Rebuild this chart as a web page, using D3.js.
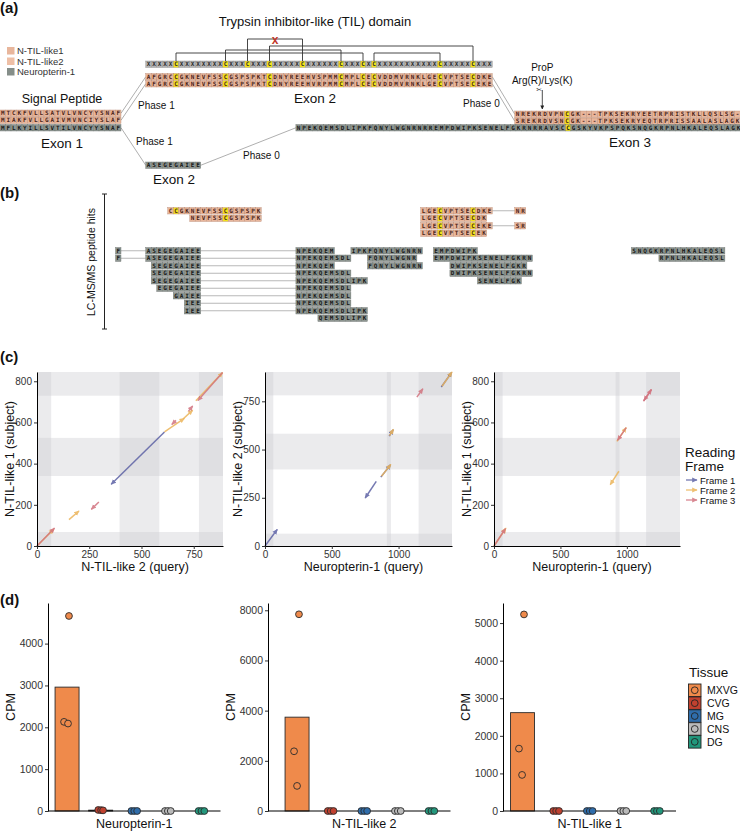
<!DOCTYPE html>
<html>
<head>
<meta charset="utf-8">
<script src="https://cdn.jsdelivr.net/npm/d3@7"></script>
<style>
body { margin: 0; background: #fff; }
svg text { font-family: "Liberation Sans", Arial, sans-serif; }
</style>
</head>
<body>
<svg id="fig" width="740" height="833"></svg>
<script>
// ---------- (a) sequences ----------
const exon1Seqs = ["MTCKFVLLSATVLVNCYYSNAF", "MIAKFVLLGAIVMVNCIYSLAF", "MFLKYILLSVTILVNCYYSNAF"];
const tilConsensus = "XXXXX" + "C" + "XXXXXXXX" + "C" + "XXX" + "C" + "XXX" + "C" + "XXXXX" + "C" +
  "XXXXXX" + "C" + "XXX" + "C" + "X" + "C" + "XXXXXXXXXXX" + "C" + "XXXXX" + "C" + "XXX";
const exon2Til = ["AFGRCCGKNEVFSSCGSPSPKTCDNYREEHVSPMMCMPLCECVDDMVRNKLGECVPTSECDKE",
                  "AFGRCCGKNEVFSSCGSPSPKTCDNYREEHVRPMMCMPLCECVDDMVRNKLGECVPTSECEKE"];
const exon3Til = ["NREKRDVPNCGK---TPKSEKRYEETRPRISTKLLQSLSG-",
                  "SREKRDVSNCGK---TPKSEKRYEQTRPRISSAALASLAGK"];
const exon2Np = "ASEGEGAIEE";
const exon3Np = "NPEKQEMSDLIPKFQNYLWGNRNRREMPDWIPKSENELFGKRNRRAVSCCGSKYVKPSPQKSNQGKRPNLHKALEQSLAGK";
// highlighted cysteines (index in each exon sequence)
const hlSets = { ex1: [], ex2: [5, 14, 22, 35, 39, 41, 53, 59], ex3n: [9], ex2p: [], ex3p: [49] };
// disulfide bonds between consensus cysteines [i, j, level]
const bonds = [[5, 39, 0], [14, 35, 1], [18, 28, 3], [22, 59, 2], [41, 53, 0]];
const brokenBond = [18, 28];
const propSite = 5; // cleavage index in exon 3
const seqLegend = ["N-TIL-like1", "N-TIL-like2", "Neuropterin-1"];

// ---------- (b) LC-MS/MS peptides [part, start index, sequence] ----------
const tilPeptides = [
  [["ex2", 4, "CCGKNEVFSSCGSPSPK"], ["ex2", 50, "LGECVPTSECDKE"], ["ex3n", 0, "NR"]],
  [["ex2", 8, "NEVFSSCGSPSPK"], ["ex2", 50, "LGECVPTSECDK"]],
  [["ex2", 50, "LGECVPTSECEKE"], ["ex3n", 0, "SR"]],
  [["ex2", 50, "LGECVPTSECEK"]]
];
const npPeptides = [
  [["ex1", 21, "F"], ["ex2p", 0, "ASEGEGAIEE"], ["ex3p", 0, "NPEKQEM"], ["ex3p", 10, "IPKFQNYLWGNRN"], ["ex3p", 25, "EMPDWIPK"], ["ex3p", 61, "SNQGKRPNLHKALEQSL"]],
  [["ex1", 21, "F"], ["ex2p", 0, "ASEGEGAIEE"], ["ex3p", 0, "NPEKQEMSDL"], ["ex3p", 13, "FQNYLWGNR"], ["ex3p", 25, "EMPDWIPKSENELFGKRN"], ["ex3p", 66, "RPNLHKALEQSL"]],
  [["ex2p", 1, "SEGEGAIEE"], ["ex3p", 0, "NPEKQEM"], ["ex3p", 13, "FQNYLWGNRN"], ["ex3p", 28, "DWIPKSENELFGKR"]],
  [["ex2p", 1, "SEGEGAIEE"], ["ex3p", 0, "NPEKQEMSDL"], ["ex3p", 28, "DWIPKSENELFGKRN"]],
  [["ex2p", 1, "SEGEGAIEE"], ["ex3p", 0, "NPEKQEMSDLIPK"], ["ex3p", 33, "SENELFGK"]],
  [["ex2p", 2, "EGEGAIEE"], ["ex3p", 0, "NPEKQEMSDL"]],
  [["ex2p", 5, "GAIEE"], ["ex3p", 0, "NPEKQEMSDL"]],
  [["ex2p", 7, "IEE"], ["ex3p", 0, "NPEKQEMSDL"]],
  [["ex2p", 7, "IEE"], ["ex3p", 0, "NPEKQEMSDLIPK"]],
  [["ex3p", 4, "QEMSDLIPK"]]
];

// ---------- (c) dot plots: segments [frame, qStart, sStart, qEnd, sEnd] ----------
const frames = ["Frame 1", "Frame 2", "Frame 3"];
const frameColors = ["#5d62a5", "#ecb55a", "#d2737f"];
const dot1Bands = { x: [[0, 68], [395, 585], [775, 890]], y: [[0, 68], [340, 525], [730, 845]] };
const dot1Segs = [[2, 0, 0, 80, 82], [3, 0, 0, 84, 87], [2, 153, 128, 201, 170], [3, 296, 214, 260, 178],
  [1, 610, 554, 355, 300], [2, 610, 554, 705, 620], [3, 665, 610, 645, 590], [2, 700, 618, 745, 660],
  [3, 725, 655, 745, 680], [2, 760, 705, 888, 842], [3, 888, 842, 770, 706]];
const dot2Bands = { x: [[0, 62], [912, 943], [1150, 1400]], y: [[0, 64], [397, 582], [781, 902]] };
const dot2Segs = [[1, 0, 0, 92, 86], [1, 833, 335, 750, 249], [1, 867, 357, 940, 421], [2, 872, 362, 942, 423],
  [1, 930, 570, 960, 603], [2, 932, 572, 962, 605], [3, 1137, 772, 1182, 815],
  [1, 1320, 824, 1398, 900], [2, 1325, 828, 1400, 902]];
const dot3Bands = { x: [[0, 65], [915, 945], [1145, 1400]], y: [[0, 68], [340, 525], [730, 845]] };
const dot3Segs = [[2, 0, 0, 90, 87], [3, 0, 0, 86, 84], [2, 940, 363, 875, 298],
  [2, 925, 508, 995, 575], [3, 995, 575, 930, 513], [3, 1125, 703, 1185, 760], [3, 1185, 760, 1128, 706]];

// ---------- (d) CPM per tissue (3 replicates) ----------
const tissues = ["MXVG", "CVG", "MG", "CNS", "DG"];
const tissueColors = ["#ef8a4b", "#c0412f", "#2f6dab", "#bababa", "#22977c"];
const neuropterinCPM = [[4660, 2130, 2090], [25, 20, 15], [0, 0, 0], [0, 0, 0], [0, 0, 0]];
const til2CPM = [[7840, 2380, 1000], [0, 0, 0], [0, 0, 0], [0, 0, 0], [0, 0, 0]];
const til1CPM = [[5230, 1660, 960], [0, 0, 0], [0, 0, 0], [0, 0, 0], [0, 0, 0]];
const jitterNeuropterin = [[0.08, -0.125, 0.04], [-0.1, 0.02, 0.1], [-0.12, 0, 0.12], [-0.12, 0, 0.12], [-0.12, 0, 0.12]];
const jitterTil2 = [[0.08, -0.125, 0], [-0.12, 0, 0.12], [-0.12, 0, 0.12], [-0.12, 0, 0.12], [-0.12, 0, 0.12]];
const jitterTil1 = [[0.06, -0.15, -0.02], [-0.12, 0, 0.12], [-0.12, 0, 0.12], [-0.12, 0, 0.12], [-0.12, 0, 0.12]];

// ================= drawing =================
const svg = d3.select("#fig");
const cw = 5.5, rh = 6.5;
const colX = d3.scaleLinear().domain([0, 1]).range([0, cw]);
const partCol = { ex1: 0, ex2: 26.5, ex3n: 93.6, ex2p: 26.5, ex3p: 53.8 };
const cellStyle = {
  til: { fill: "#e8b69c", stroke: "#b98a74", text: "#4a2418" },
  np: { fill: "#8e9691", stroke: "#6a716d", text: "#161616" },
  cons: { fill: "#b4b4b4", stroke: "#8a8a8a", text: "#2a2a2a" }
};
const hlFill = "#f2e21c";

function txt(x, y, s, size, anchor, extra) {
  const t = svg.append("text").attr("x", x).attr("y", y).attr("font-size", size)
    .attr("text-anchor", anchor || "start").attr("fill", "#111").text(s);
  if (extra) extra(t);
  return t;
}

function drawSeq(seq, part, start, y0, kind, hlAll) {
  const st = cellStyle[kind];
  const hl = hlSets[part] || [];
  const cells = svg.append("g").selectAll("g")
    .data(seq.split("").map((ch, i) => ({ ch, i: start + i })))
    .enter().append("g")
    .attr("transform", d => `translate(${colX(partCol[part] + d.i)},${y0})`);
  cells.append("rect").attr("width", cw).attr("height", rh)
    .attr("fill", d => d.ch === "C" && (hlAll || hl.includes(d.i)) ? hlFill : st.fill)
    .attr("stroke", st.stroke).attr("stroke-width", 0.4);
  cells.append("text").attr("x", cw / 2).attr("y", rh - 1.1).attr("text-anchor", "middle")
    .style("font-family", "'DejaVu Sans Mono', monospace").attr("font-size", 6)
    .attr("font-weight", "bold").attr("fill", st.text).text(d => d.ch);
}

function joinLine(x1, y1, x2, y2, col) {
  svg.append("line").attr("x1", x1).attr("y1", y1).attr("x2", x2).attr("y2", y2)
    .attr("stroke", col || "#8c8c8c").attr("stroke-width", 0.7);
}

// panel labels
[["(a)", 13], ["(b)", 198], ["(c)", 362], ["(d)", 605]].forEach(p =>
  txt(0, p[1], p[0], 15, "start", t => t.attr("font-weight", "bold")));

// ---- (a) ----
txt(315, 26, "Trypsin inhibitor-like (TIL) domain", 13, "middle");
const legCols = ["#e8b69c", "#eebfa6", "#858e89"];
seqLegend.forEach((s, i) => {
  svg.append("rect").attr("x", 7).attr("y", 47 + i * 10.5).attr("width", 7.5).attr("height", 7.5).attr("fill", legCols[i]);
  txt(17, 54 + i * 10.5, s, 9.5, "start", t => t.attr("fill", "#333"));
});

const ex1Tops = [110, 117, 124.5];
const ex2Tops = [73.5, 80.5];
const ex3Tops = [111, 118];
const consTop = 61, ex2pTop = 162, ex3pTop = 124.5;

// connecting lines first (under the cells)
const end = (part, len) => colX(partCol[part] + len);
ex2Tops.forEach((t, i) => {
  joinLine(end("ex1", 22), ex1Tops[i] + rh / 2, colX(partCol.ex2), t + rh / 2);
  joinLine(end("ex2", 63), t + rh / 2, colX(partCol.ex3n), ex3Tops[i] + rh / 2);
});
joinLine(end("ex1", 22), ex1Tops[2] + rh / 2, colX(partCol.ex2p), ex2pTop + rh / 2);
joinLine(end("ex2p", exon2Np.length), ex2pTop + rh / 2, colX(partCol.ex3p), ex3pTop + rh / 2);

exon1Seqs.forEach((s, i) => drawSeq(s, "ex1", 0, ex1Tops[i], i < 2 ? "til" : "np"));
drawSeq(tilConsensus, "ex2", 0, consTop, "cons", true);
exon2Til.forEach((s, i) => drawSeq(s, "ex2", 0, ex2Tops[i], "til"));
exon3Til.forEach((s, i) => drawSeq(s, "ex3n", 0, ex3Tops[i], "til"));
drawSeq(exon2Np, "ex2p", 0, ex2pTop, "np");
drawSeq(exon3Np, "ex3p", 0, ex3pTop, "np");

// disulfide brackets
const levelY = [53, 50, 46, 39];
const cx = i => colX(partCol.ex2 + i + 0.5);
bonds.forEach(b => {
  const yy = levelY[b[2]];
  svg.append("path").attr("d", `M${cx(b[0])},${consTop}V${yy}H${cx(b[1])}V${consTop}`)
    .attr("fill", "none").attr("stroke", "#333").attr("stroke-width", 0.9);
});
txt((cx(brokenBond[0]) + cx(brokenBond[1])) / 2, 44, "x", 12, "middle",
  t => t.attr("fill", "#c0392b").attr("font-weight", "bold"));

txt(62, 103, "Signal Peptide", 12.5, "middle");
txt(62, 148, "Exon 1", 13.5, "middle");
txt(315, 103, "Exon 2", 13.5, "middle");
txt(174, 184, "Exon 2", 13.5, "middle");
txt(630, 147, "Exon 3", 13.5, "middle");
txt(138, 109, "Phase 1", 10, "start");
txt(136, 145, "Phase 1", 10, "start");
txt(243, 159, "Phase 0", 10, "start");
txt(463, 107, "Phase 0", 10, "start");

// ProP cleavage
const propX = colX(partCol.ex3n + propSite);
txt(propX, 71, "ProP", 10, "middle");
txt(propX, 84, "Arg(R)/Lys(K)", 10, "middle");
svg.append("defs").append("marker").attr("id", "propHead").attr("viewBox", "0 0 10 10")
  .attr("refX", 9).attr("refY", 5).attr("markerWidth", 4).attr("markerHeight", 4)
  .attr("markerUnits", "userSpaceOnUse").attr("orient", "auto")
  .append("path").attr("d", "M0,0L10,5L0,10Z").attr("fill", "#222");
svg.append("line").attr("x1", propX).attr("y1", 90).attr("x2", propX).attr("y2", 109)
  .attr("stroke", "#222").attr("stroke-width", 0.8).attr("marker-end", "url(#propHead)");
txt(propX - 3, 92, "\u2702", 7, "middle", t => t.style("font-family", "DejaVu Sans").attr("fill", "#333"));

// ---- (b) ----
svg.append("path").attr("d", "M102,194H107M104.5,194V329M102,329H107")
  .attr("fill", "none").attr("stroke", "#222").attr("stroke-width", 1);
txt(0, 0, "LC-MS/MS peptide hits", 10.5, "middle",
  t => t.attr("transform", "translate(95,262) rotate(-90)"));

function drawPeptideRows(rows, top0, step, kind) {
  rows.forEach((frags, r) => {
    const y0 = top0 + r * step;
    frags.forEach((f, k) => {
      if (k > 0 && frags[k - 1][0] !== f[0]) {
        const p = frags[k - 1];
        joinLine(colX(partCol[p[0]] + p[1] + p[2].length), y0 + rh / 2, colX(partCol[f[0]] + f[1]), y0 + rh / 2, "#9a9a9a");
      }
    });
    frags.forEach(f => drawSeq(f[2], f[0], f[1], y0, kind));
  });
}
drawPeptideRows(tilPeptides, 207.5, 7.5, "til");
drawPeptideRows(npPeptides, 247.5, 7.5, "np");

// ---- (c) ----
const defs = svg.append("defs");
frameColors.forEach((c, i) => defs.append("marker").attr("id", "arr" + (i + 1))
  .attr("viewBox", "0 0 10 10").attr("refX", 8).attr("refY", 5)
  .attr("markerWidth", 6).attr("markerHeight", 6).attr("markerUnits", "userSpaceOnUse")
  .attr("orient", "auto").append("path").attr("d", "M0,1L9,5L0,9Z").attr("fill", c));

function styleAxis(g, size) {
  g.select(".domain").attr("stroke", "#000").attr("stroke-width", 1);
  g.selectAll(".tick line").attr("stroke", "#333");
  g.selectAll(".tick text").attr("fill", "#333").attr("font-size", size || 10)
    .style("font-family", "'Liberation Sans', Arial, sans-serif");
}

function dotPlot(p) {
  const x = d3.scaleLinear().domain([0, p.xMax]).range([p.left, p.right]);
  const y = d3.scaleLinear().domain([0, p.yMax]).range([p.bottom, p.top]);
  const g = svg.append("g");
  g.selectAll(".vb").data(p.bands.x).enter().append("rect")
    .attr("x", d => x(d[0])).attr("width", d => x(d[1]) - x(d[0]))
    .attr("y", p.top).attr("height", p.bottom - p.top).attr("fill", "#cfcfd4").attr("opacity", 0.42);
  g.selectAll(".hb").data(p.bands.y).enter().append("rect")
    .attr("y", d => y(d[1])).attr("height", d => y(d[0]) - y(d[1]))
    .attr("x", p.left).attr("width", p.right - p.left).attr("fill", "#cfcfd4").attr("opacity", 0.42);
  g.selectAll(".seg").data(p.segs).enter().append("line")
    .attr("x1", d => x(d[1])).attr("y1", d => y(d[2]))
    .attr("x2", d => x(d[3])).attr("y2", d => y(d[4]))
    .attr("stroke", d => frameColors[d[0] - 1]).attr("stroke-width", 1.5)
    .attr("opacity", 0.85).attr("marker-end", d => `url(#arr${d[0]})`);
  const ax = g.append("g").attr("transform", `translate(0,${p.bottom})`)
    .call(d3.axisBottom(x).tickValues(p.xTicks).tickFormat(d3.format("d")).tickSize(3).tickSizeOuter(0).tickPadding(2));
  styleAxis(ax);
  const ay = g.append("g").attr("transform", `translate(${p.left},0)`)
    .call(d3.axisLeft(y).tickValues(p.yTicks).tickFormat(d3.format("d")).tickSize(3).tickSizeOuter(0).tickPadding(2));
  styleAxis(ay);
  txt((p.left + p.right) / 2 + 5, 571, p.xTitle, 12.5, "middle");
  txt(0, 0, p.yTitle, 12.5, "middle",
    t => t.attr("transform", `translate(${p.left - 23},${(p.top + p.bottom) / 2}) rotate(-90)`));
}

dotPlot({ left: 37, right: 223, top: 372, bottom: 546, xMax: 890, yMax: 845,
  xTicks: [0, 250, 500, 750], yTicks: [0, 200, 400, 600, 800], bands: dot1Bands, segs: dot1Segs,
  xTitle: "N-TIL-like 2 (query)", yTitle: "N-TIL-like 1 (subject)" });
dotPlot({ left: 265, right: 452, top: 372, bottom: 546, xMax: 1400, yMax: 902,
  xTicks: [0, 500, 1000], yTicks: [0, 250, 500, 750], bands: dot2Bands, segs: dot2Segs,
  xTitle: "Neuropterin-1 (query)", yTitle: "N-TIL-like 2 (subject)" });
dotPlot({ left: 494, right: 680, top: 372, bottom: 546, xMax: 1400, yMax: 845,
  xTicks: [0, 500, 1000], yTicks: [0, 200, 400, 600, 800], bands: dot3Bands, segs: dot3Segs,
  xTitle: "Neuropterin-1 (query)", yTitle: "N-TIL-like 1 (subject)" });

txt(685, 457, "Reading", 13.5, "start");
txt(685, 471, "Frame", 13.5, "start");
frames.forEach((f, i) => {
  const yy = 480 + i * 10;
  svg.append("line").attr("x1", 686).attr("x2", 697).attr("y1", yy).attr("y2", yy)
    .attr("stroke", frameColors[i]).attr("stroke-width", 1.3).attr("opacity", 0.85)
    .attr("marker-end", `url(#arr${i + 1})`);
  txt(700, yy + 3.5, f, 9.5, "start");
});

// ---- (d) ----
function cpmPlot(p) {
  const top = 603, bottom = 811;
  const x = d3.scaleBand().domain(tissues).range([p.bandLeft, p.right]).paddingInner(0.286).paddingOuter(0.21);
  const y = d3.scaleLinear().domain([0, p.yMax]).range([bottom, top]);
  const bw = x.bandwidth();
  const g = svg.append("g");
  const rows = tissues.map((t, i) => ({ t, c: tissueColors[i], vals: p.values[i], jit: p.jitter[i] }));
  g.selectAll(".bar").data(rows).enter().append("rect")
    .attr("x", d => x(d.t)).attr("width", bw)
    .attr("y", d => y(d3.mean(d.vals))).attr("height", d => bottom - y(d3.mean(d.vals)))
    .attr("fill", d => d.c).attr("stroke", "#2b2b2b").attr("stroke-width", 0.9);
  const ax = g.append("g").attr("transform", `translate(${p.axisX},0)`)
    .call(d3.axisLeft(y).tickValues(p.yTicks).tickFormat(d3.format("d")).tickSize(3).tickSizeOuter(0).tickPadding(2));
  styleAxis(ax, 10.5);
  g.append("line").attr("x1", p.axisX).attr("x2", p.right).attr("y1", bottom).attr("y2", bottom)
    .attr("stroke", "#000").attr("stroke-width", 1);
  const pts = rows.flatMap(d => d.vals.map((v, k) => ({ t: d.t, c: d.c, v, j: d.jit[k] })));
  g.selectAll(".pt").data(pts).enter().append("circle")
    .attr("cx", d => x(d.t) + bw / 2 + d.j * bw).attr("cy", d => y(d.v)).attr("r", 3.4)
    .attr("fill", d => d.c).attr("stroke", "#2b2b2b").attr("stroke-width", 0.9);
  txt((p.bandLeft + p.right) / 2, 828, p.title, 12.5, "middle");
  txt(0, 0, "CPM", 12.5, "middle",
    t => t.attr("transform", `translate(${p.axisX - 33},707) rotate(-90)`));
}

cpmPlot({ axisX: 48, bandLeft: 48, right: 220.5, yMax: 4970, yTicks: [0, 1000, 2000, 3000, 4000],
  values: neuropterinCPM, jitter: jitterNeuropterin, title: "Neuropterin-1" });
cpmPlot({ axisX: 268, bandLeft: 278, right: 450.5, yMax: 8290, yTicks: [0, 2000, 4000, 6000, 8000],
  values: til2CPM, jitter: jitterTil2, title: "N-TIL-like 2" });
cpmPlot({ axisX: 503, bandLeft: 503.5, right: 676, yMax: 5534, yTicks: [0, 1000, 2000, 3000, 4000, 5000],
  values: til1CPM, jitter: jitterTil1, title: "N-TIL-like 1" });

txt(689, 677, "Tissue", 13.5, "start");
tissues.forEach((t, i) => {
  const yy = 684 + i * 12.9;
  svg.append("rect").attr("x", 688.5).attr("y", yy).attr("width", 12.5).attr("height", 12.5)
    .attr("fill", tissueColors[i]).attr("stroke", "#222").attr("stroke-width", 0.9);
  svg.append("circle").attr("cx", 694.75).attr("cy", yy + 6.25).attr("r", 3.4)
    .attr("fill", tissueColors[i]).attr("stroke", "#222").attr("stroke-width", 0.9);
  txt(707, yy + 10, t, 10.5, "start");
});
</script>
</body>
</html>
